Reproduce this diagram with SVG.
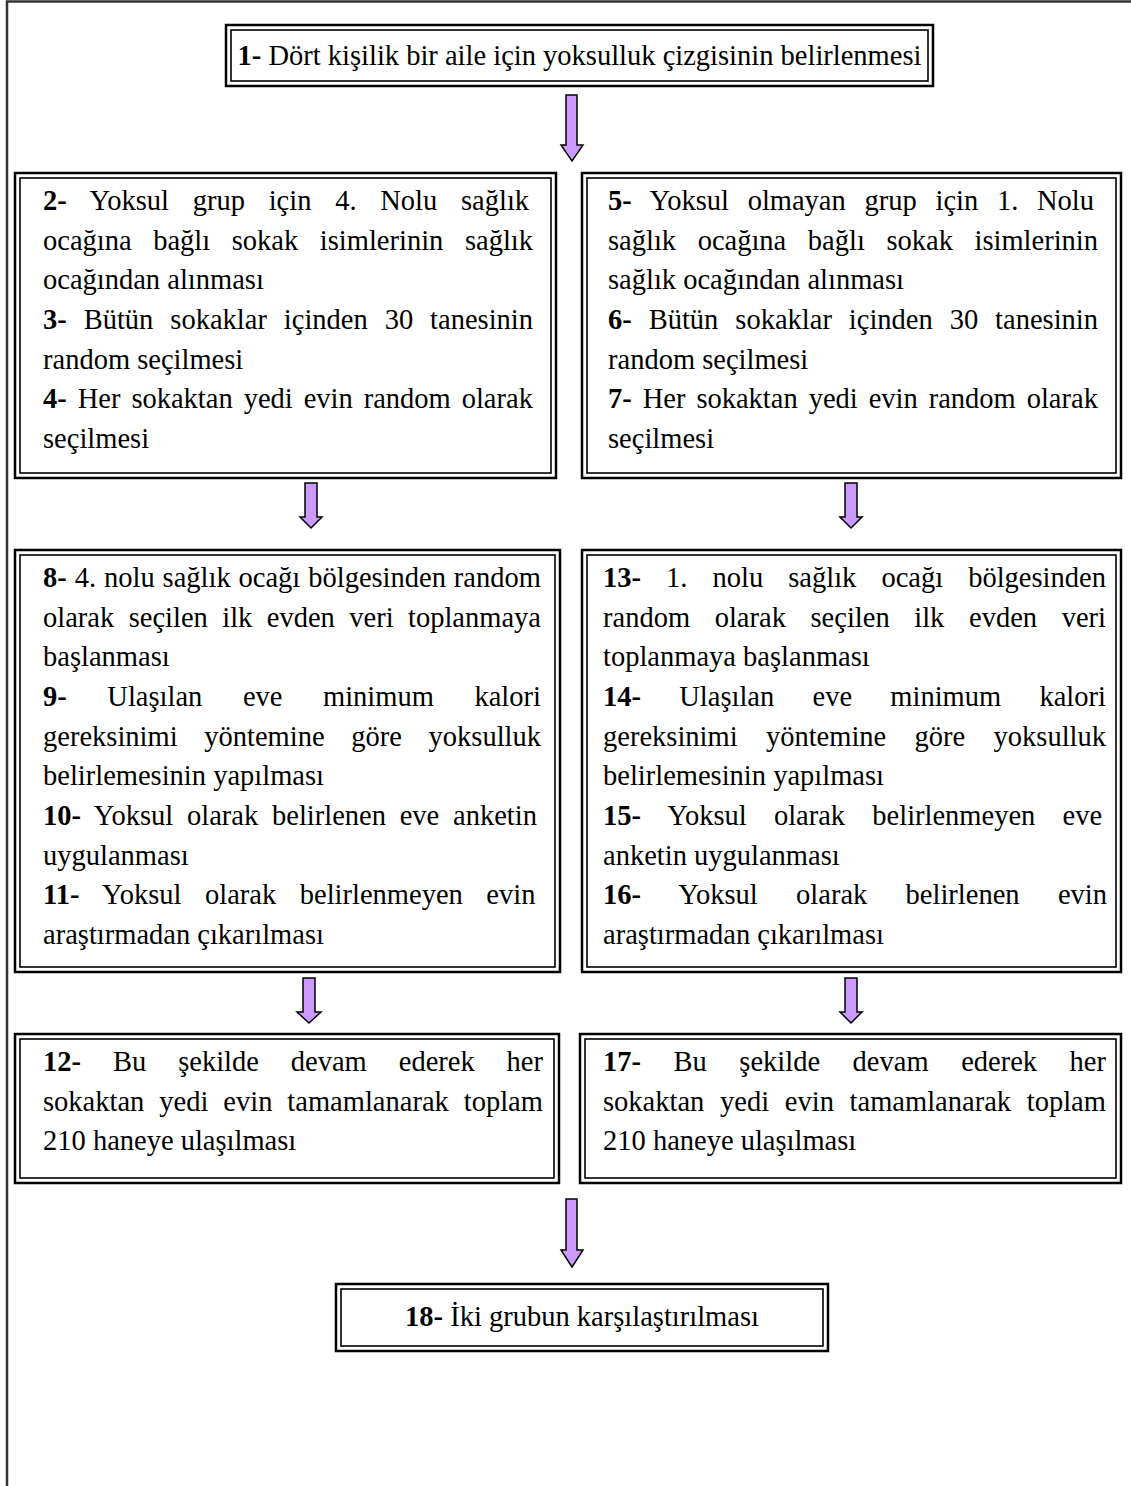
<svg xmlns="http://www.w3.org/2000/svg" width="1131" height="1486" viewBox="0 0 1131 1486">
<style>
.t{font-family:"Liberation Serif","Times New Roman",serif;font-size:28.5px;fill:#000}
.b{font-weight:bold}
.o{fill:none;stroke:#000;stroke-width:2.5}
.i{fill:none;stroke:#000;stroke-width:1.6}
.arr{fill:#CC99FF;stroke:#000;stroke-width:1.5;stroke-linejoin:miter}
.frame{fill:none;stroke:#333;stroke-width:2.5}
</style>
<rect x="0" y="0" width="1131" height="1486" fill="#fff"/>
<path class="frame" d="M7,1486 V1.5 H1131"/>

<g id="connectors">
<path class="arr" d="M566,95 H577 V145 H583 L572,161 L561,145 H566 Z"/>
<path class="arr" d="M305,483 H317 V517 H322 L311,528 L300,517 H305 Z"/>
<path class="arr" d="M845,483 H857 V517 H862 L851,528 L840,517 H845 Z"/>
<path class="arr" d="M303,978 H315 V1012 H321 L309,1023 L297,1012 H303 Z"/>
<path class="arr" d="M845,978 H857 V1012 H862 L851,1023 L840,1012 H845 Z"/>
<path class="arr" d="M566,1199 H577 V1250 H583 L572,1267 L561,1250 H566 Z"/>
</g>

<g id="n1">
<rect class="o" x="226" y="25" width="707" height="61"/>
<rect class="i" x="231" y="30" width="697" height="51"/>
<text class="t" x="579.5" y="65" text-anchor="middle" font-size="28.2"><tspan class="b">1-</tspan> Dört kişilik bir aile için yoksulluk çizgisinin belirlenmesi</text>
</g>

<g id="n2">
<rect class="o" x="15" y="173" width="541" height="305"/>
<rect class="i" x="20" y="178" width="531" height="295"/>
<text class="t" x="43" y="210" word-spacing="16.62"><tspan class="b">2-</tspan> Yoksul grup için 4. Nolu sağlık</text>
<text class="t" x="43" y="250" word-spacing="14.45">ocağına bağlı sokak isimlerinin sağlık</text>
<text class="t" x="43" y="289">ocağından alınması</text>
<text class="t" x="43" y="329" word-spacing="9.82"><tspan class="b">3-</tspan> Bütün sokaklar içinden 30 tanesinin</text>
<text class="t" x="43" y="369">random seçilmesi</text>
<text class="t" x="43" y="408" word-spacing="3.83"><tspan class="b">4-</tspan> Her sokaktan yedi evin random olarak</text>
<text class="t" x="43" y="448">seçilmesi</text>
</g>

<g id="n5">
<rect class="o" x="582" y="173" width="539" height="305"/>
<rect class="i" x="587" y="178" width="529" height="295"/>
<text class="t" x="608" y="210" word-spacing="11.6"><tspan class="b">5-</tspan> Yoksul olmayan grup için 1. Nolu</text>
<text class="t" x="608" y="250" word-spacing="14.45">sağlık ocağına bağlı sokak isimlerinin</text>
<text class="t" x="608" y="289">sağlık ocağından alınması</text>
<text class="t" x="608" y="329" word-spacing="9.82"><tspan class="b">6-</tspan> Bütün sokaklar içinden 30 tanesinin</text>
<text class="t" x="608" y="369">random seçilmesi</text>
<text class="t" x="608" y="408" word-spacing="3.83"><tspan class="b">7-</tspan> Her sokaktan yedi evin random olarak</text>
<text class="t" x="608" y="448">seçilmesi</text>
</g>

<g id="n8">
<rect class="o" x="15" y="550" width="545" height="422"/>
<rect class="i" x="20" y="555" width="535" height="412"/>
<text class="t" x="43" y="587" word-spacing="0.8"><tspan class="b">8-</tspan> 4. nolu sağlık ocağı bölgesinden random</text>
<text class="t" x="43" y="627" word-spacing="7.32">olarak seçilen ilk evden veri toplanmaya</text>
<text class="t" x="43" y="666">başlanması</text>
<text class="t" x="43" y="706" word-spacing="33.45"><tspan class="b">9-</tspan> Ulaşılan eve minimum kalori</text>
<text class="t" x="43" y="746" word-spacing="19.57">gereksinimi yöntemine göre yoksulluk</text>
<text class="t" x="43" y="785">belirlemesinin yapılması</text>
<text class="t" x="43" y="825" word-spacing="6.66"><tspan class="b">10-</tspan> Yoksul olarak belirlenen eve anketin</text>
<text class="t" x="43" y="865">uygulanması</text>
<text class="t" x="43" y="904" word-spacing="16.45"><tspan class="b">11-</tspan> Yoksul olarak belirlenmeyen evin</text>
<text class="t" x="43" y="944">araştırmadan çıkarılması</text>
</g>

<g id="n13">
<rect class="o" x="582" y="550" width="539" height="422"/>
<rect class="i" x="587" y="555" width="529" height="412"/>
<text class="t" x="603" y="587" word-spacing="17.94"><tspan class="b">13-</tspan> 1. nolu sağlık ocağı bölgesinden</text>
<text class="t" x="603" y="627" word-spacing="17.5">random olarak seçilen ilk evden veri</text>
<text class="t" x="603" y="666">toplanmaya başlanması</text>
<text class="t" x="603" y="706" word-spacing="31.15"><tspan class="b">14-</tspan> Ulaşılan eve minimum kalori</text>
<text class="t" x="603" y="746" word-spacing="21.23">gereksinimi yöntemine göre yoksulluk</text>
<text class="t" x="603" y="785">belirlemesinin yapılması</text>
<text class="t" x="603" y="825" word-spacing="20.1"><tspan class="b">15-</tspan> Yoksul olarak belirlenmeyen eve</text>
<text class="t" x="603" y="865">anketin uygulanması</text>
<text class="t" x="603" y="904" word-spacing="31.2"><tspan class="b">16-</tspan> Yoksul olarak belirlenen evin</text>
<text class="t" x="603" y="944">araştırmadan çıkarılması</text>
</g>

<g id="n12">
<rect class="o" x="15" y="1034" width="544" height="149"/>
<rect class="i" x="20" y="1039" width="534" height="139"/>
<text class="t" x="43" y="1071" word-spacing="24.82"><tspan class="b">12-</tspan> Bu şekilde devam ederek her</text>
<text class="t" x="43" y="1111" word-spacing="7.85">sokaktan yedi evin tamamlanarak toplam</text>
<text class="t" x="43" y="1150">210 haneye ulaşılması</text>
</g>

<g id="n17">
<rect class="o" x="580" y="1034" width="541" height="149"/>
<rect class="i" x="585" y="1039" width="531" height="139"/>
<text class="t" x="603" y="1071" word-spacing="25.42"><tspan class="b">17-</tspan> Bu şekilde devam ederek her</text>
<text class="t" x="603" y="1111" word-spacing="8.6">sokaktan yedi evin tamamlanarak toplam</text>
<text class="t" x="603" y="1150">210 haneye ulaşılması</text>
</g>

<g id="n18">
<rect class="o" x="336" y="1284" width="492" height="67"/>
<rect class="i" x="341" y="1289" width="482" height="57"/>
<text class="t" x="582" y="1326" text-anchor="middle"><tspan class="b">18-</tspan> İki grubun karşılaştırılması</text>
</g>
</svg>
